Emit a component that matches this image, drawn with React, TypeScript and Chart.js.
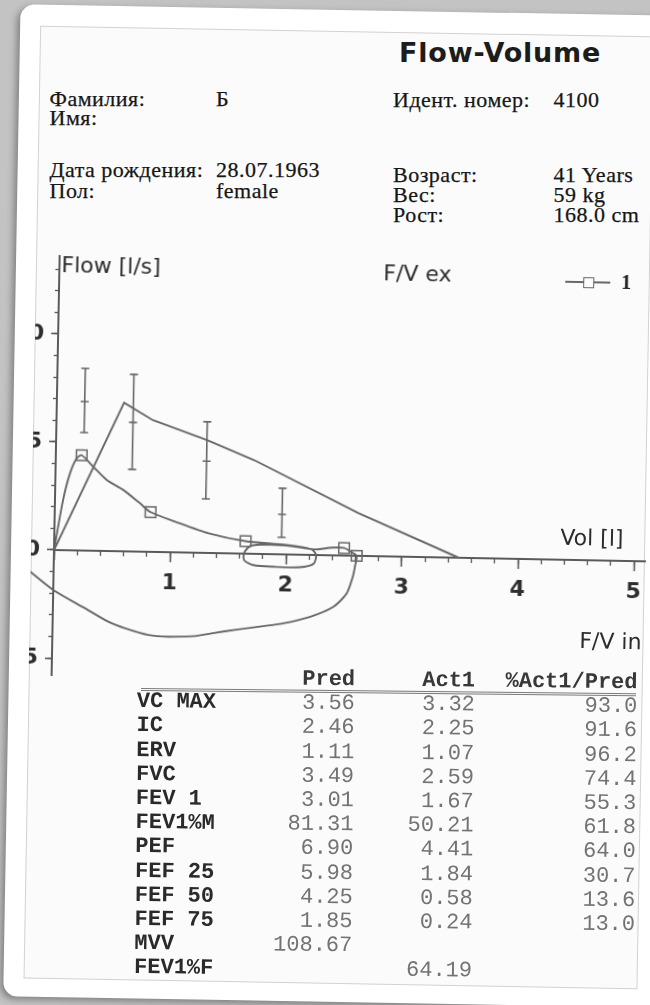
import React, { useEffect, useRef } from 'react';
import { Chart, registerables } from 'chart.js';

Chart.register(...registerables);

// ---------- chart data (volume in l, flow in l/s) ----------
// predicted expiratory curve
const predVolume = [0, 0.58, 0.83, 1.30, 1.71, 2.62, 3.49];
const predFlow = [0, 6.88, 6.10, 5.23, 4.34, 1.97, 0];

// predicted reference values with their ranges (PEF, FEF25, FEF50, FEF75)
const refVolume = [0.24, 0.66, 1.30, 1.96];
const refMean = [6.90, 5.98, 4.25, 1.85];
const refLow = [5.46, 3.80, 2.50, 0.79];
const refHigh = [8.44, 8.20, 6.07, 3.06];

// measured flow-volume loop (expiration then inspiration)
const measVolume = [
  0, 0.07, 0.125, 0.18, 0.223, 0.325, 0.443, 0.587, 0.733, 0.826,
  1.04, 1.33, 1.65, 2.0, 2.22, 2.26, 2.24, 2.12, 1.9, 1.72,
  1.64, 1.64, 1.7, 2.0, 2.24, 2.4, 2.5, 2.57, 2.61, 2.6,
  2.58, 2.53, 2.42, 2.22, 1.99, 1.83, 1.6, 1.37, 1.23, 1.0,
  0.827, 0.625, 0.48, 0.277, 0, -0.2, -0.33,
];
const measFlow = [
  0, 2.32, 3.56, 4.26, 4.41, 3.89, 3.29, 2.84, 2.24, 1.84,
  1.42, 0.91, 0.58, 0.44, 0.26, 0.0, -0.4, -0.58, -0.58, -0.52,
  -0.3, 0.05, 0.38, 0.42, 0.26, 0.36, 0.35, 0.15, 0.0, -0.4,
  -0.97, -1.75, -2.37, -2.86, -3.19, -3.33, -3.51, -3.72, -3.86, -3.91,
  -3.85, -3.56, -3.27, -2.67, -1.85, -1.03, -0.45,
];
// 1 where the measured curve carries a square marker
const measMarked = [
  0, 0, 0, 0, 1, 0, 0, 0, 0, 1,
  0, 0, 1, 0, 0, 0, 0, 0, 0, 0,
  0, 0, 0, 0, 0, 0, 1, 0, 1, 0,
  0, 0, 0, 0, 0, 0, 0, 0, 0, 0,
  0, 0, 0, 0, 0, 0, 0,
];

const volTickLabels = ['', '1', '2', '3', '4', '5'];

// ---------- table ----------
const rowLabels = ['VC MAX', 'IC', 'ERV', 'FVC', 'FEV 1', 'FEV1%M', 'PEF', 'FEF 25', 'FEF 50', 'FEF 75', 'MVV', 'FEV1%F'];
const predValues = ['3.56', '2.46', '1.11', '3.49', '3.01', '81.31', '6.90', '5.98', '4.25', '1.85', '108.67', ''];
const actValues = ['3.32', '2.25', '1.07', '2.59', '1.67', '50.21', '4.41', '1.84', '0.58', '0.24', '', '64.19'];
const pctValues = ['93.0', '91.6', '96.2', '74.4', '55.3', '61.8', '64.0', '30.7', '13.6', '13.0', '', ''];

const SANS = '"DejaVu Sans", Verdana, sans-serif';
const SERIF = '"Liberation Serif", "Times New Roman", serif';
const MONO = '"Liberation Mono", "Courier New", monospace';

const K_SANS = 0.846;
const K_SERIF = 0.8375;
const K_MONO = 0.7665;

type TxtProps = {
  left?: number;
  right?: number;
  baseline: number;
  size: number;
  family: string;
  k: number;
  weight?: string | number;
  color?: string;
  ls?: number;
  stroke?: string;
  children: React.ReactNode;
};

function Txt({ left, right, baseline, size, family, k, weight = 'normal', color = '#222', ls = 0, stroke, children }: TxtProps) {
  const style: React.CSSProperties = {
    position: 'absolute',
    top: baseline - k * size,
    fontSize: size,
    lineHeight: size + 'px',
    fontFamily: family,
    fontWeight: weight as any,
    color,
    letterSpacing: ls,
    whiteSpace: 'nowrap',
  };
  if (stroke) (style as any).WebkitTextStroke = stroke;
  if (right !== undefined) {
    style.left = right - 300;
    style.width = 300;
    style.textAlign = 'right';
  } else {
    style.left = left;
  }
  return <div style={style}>{children}</div>;
}

const LINE = '#676767';
const AXIS = '#5a5a5a';

// canvas geometry in the chart frame
const CANVAS_LEFT = 0;
const CANVAS_TOP = 220;
const CANVAS_W = 660;
const CANVAS_H = 480;
const ORIGIN_X = 54;
const ORIGIN_Y = 550;
const PX_PER_L = 116;
const PX_PER_LS = 21.6;
const VOL_MAX = 5.1;
const FLOW_MAX = 13.6;
const FLOW_MIN = -5.8;

function FlowVolumeChart() {
  const ref = useRef<HTMLCanvasElement>(null);
  useEffect(() => {
    const canvas = ref.current;
    if (!canvas) return;
    const pred = predVolume.map((v, i) => ({ x: v, y: predFlow[i] }));
    const meas = measVolume.map((v, i) => ({ x: v, y: measFlow[i] }));
    const bars = refVolume.map((v, i) => ({
      label: 'ref' + i,
      data: [
        { x: v, y: refLow[i] },
        { x: v, y: refMean[i] },
        { x: v, y: refHigh[i] },
      ],
      showLine: true,
      borderColor: LINE,
      borderWidth: 1.6,
      pointStyle: 'line',
      pointRadius: 4,
      pointHoverRadius: 4,
      pointBorderColor: LINE,
      pointBorderWidth: 1.6,
      pointBackgroundColor: LINE,
    }));

    const top = ORIGIN_Y - FLOW_MAX * PX_PER_LS - CANVAS_TOP;
    const bottom = CANVAS_TOP + CANVAS_H - (ORIGIN_Y - FLOW_MIN * PX_PER_LS);
    const right = CANVAS_LEFT + CANVAS_W - (ORIGIN_X + VOL_MAX * PX_PER_L);
    const yAxisWidth = 40;

    const tickFont = { family: SANS, size: 22, weight: 'bold' as const };

    const chart = new Chart(canvas, {
      type: 'scatter',
      data: {
        datasets: [
          {
            label: 'pred',
            data: pred,
            showLine: true,
            borderColor: LINE,
            borderWidth: 1.9,
            pointRadius: 0,
            pointHoverRadius: 0,
            tension: 0,
          },
          ...bars,
          {
            label: '1',
            data: meas,
            showLine: true,
            borderColor: LINE,
            borderWidth: 1.9,
            tension: 0.25,
            capBezierPoints: false,
            clip: false,
            pointStyle: 'rect',
            pointRadius: measMarked.map((m) => (m ? 7.5 : 0)),
            pointHoverRadius: measMarked.map((m) => (m ? 7.5 : 0)),
            pointBorderColor: LINE,
            pointBorderWidth: 1.5,
            pointBackgroundColor: 'rgba(255,255,255,0)',
          } as any,
        ] as any,
      },
      options: {
        animation: false,
        responsive: false,
        maintainAspectRatio: false,
        devicePixelRatio: 1,
        events: [],
        layout: {
          padding: {
            left: ORIGIN_X - CANVAS_LEFT - yAxisWidth,
            top,
            right,
            bottom,
          },
        },
        plugins: {
          legend: { display: false },
          tooltip: { enabled: false },
        },
        scales: {
          x: {
            type: 'linear',
            min: 0,
            max: VOL_MAX,
            position: { y: 0 } as any,
            ticks: {
              stepSize: 1,
              includeBounds: false,
              padding: 9,
              color: '#2e2e2e',
              font: tickFont,
              maxRotation: 0,
              autoSkip: false,
              callback: (v: any) => {
                const idx = Math.round(Number(v));
                return Math.abs(Number(v) - idx) < 1e-6 ? volTickLabels[idx] ?? '' : '';
              },
            },
            grid: {
              drawOnChartArea: false,
              drawTicks: true,
              tickLength: 9,
              tickColor: AXIS,
              tickWidth: 1.6,
            },
            border: { display: true, color: AXIS, width: 2 },
          },
          x2: {
            type: 'linear',
            min: 0,
            max: VOL_MAX,
            position: { y: 0 } as any,
            ticks: { stepSize: 0.2, includeBounds: false, display: false, autoSkip: false },
            grid: {
              drawOnChartArea: false,
              drawTicks: true,
              tickLength: 5,
              tickColor: AXIS,
              tickWidth: 1.3,
            },
            border: { display: false },
          },
          y: {
            type: 'linear',
            min: FLOW_MIN,
            max: FLOW_MAX,
            position: 'left',
            afterFit: (scale: any) => {
              scale.width = yAxisWidth;
            },
            ticks: {
              stepSize: 5,
              includeBounds: false,
              padding: 7,
              color: '#2e2e2e',
              font: tickFont,
              autoSkip: false,
            },
            grid: {
              drawOnChartArea: false,
              drawTicks: true,
              tickLength: 7,
              tickColor: AXIS,
              tickWidth: 1.6,
            },
            border: { display: true, color: AXIS, width: 2 },
          },
          y2: {
            type: 'linear',
            min: FLOW_MIN,
            max: FLOW_MAX,
            position: { x: 0 } as any,
            ticks: { stepSize: 1, includeBounds: false, display: false, autoSkip: false },
            grid: {
              drawOnChartArea: false,
              drawTicks: true,
              tickLength: 4,
              tickColor: AXIS,
              tickWidth: 1.3,
            },
            border: { display: false },
          },
        } as any,
      },
    });
    return () => {
      chart.destroy();
    };
  }, []);

  return (
    <canvas
      ref={ref}
      width={CANVAS_W}
      height={CANVAS_H}
      style={{ position: 'absolute', left: CANVAS_LEFT - 31, top: CANVAS_TOP, width: CANVAS_W, height: CANVAS_H }}
    />
  );
}

export default function App() {
  const headerSize = 22;
  const hs = { size: headerSize, family: SERIF, k: K_SERIF, ls: 0.5, color: '#161616', stroke: '0.25px #161616' };
  const rowBase = (i: number) => 708 + 24.2 * i;
  const ts = { size: 22, family: MONO, k: K_MONO };

  return (
    <div
      style={{
        position: 'fixed',
        left: 0,
        top: 0,
        width: 650,
        height: 1005,
        overflow: 'hidden',
        background: '#c3c3c3',
      }}
    >
      {/* card and paper */}
      <div
        style={{
          position: 'absolute',
          left: 0,
          top: 0,
          width: 650,
          height: 1005,
          transform: 'rotate(1deg)',
          transformOrigin: '54px 550px',
        }}
      >
        <div
          style={{
            position: 'absolute',
            left: 10.5,
            top: 5.3,
            width: 720,
            height: 991.7,
            background: '#ffffff',
            borderRadius: 14,
            boxShadow: '-3px 3px 7px rgba(0,0,0,0.35)',
          }}
        />
        <div
          style={{
            position: 'absolute',
            left: 31.4,
            top: 26.2,
            width: 613.6,
            height: 952.5,
            background: '#fbfbfb',
            border: '1px solid #d2d2d2',
            boxSizing: 'border-box',
          }}
        />
      </div>

      {/* header */}
      <Txt left={399} baseline={61.7} size={27} family={SANS} k={K_SANS} weight="bold" color="#1c1c1c" ls={0.8}>
        Flow-Volume
      </Txt>
      <Txt left={49.5} baseline={106.5} {...hs}>Фамилия:</Txt>
      <Txt left={216} baseline={106.5} {...hs}>Б</Txt>
      <Txt left={49.5} baseline={125.5} {...hs}>Имя:</Txt>
      <Txt left={393} baseline={107.5} {...hs}>Идент. номер:</Txt>
      <Txt left={553.5} baseline={107.5} {...hs}>4100</Txt>
      <Txt left={49.5} baseline={177} {...hs}>Дата рождения:</Txt>
      <Txt left={216} baseline={177} {...hs}>28.07.1963</Txt>
      <Txt left={49.5} baseline={198.5} {...hs}>Пол:</Txt>
      <Txt left={216} baseline={198.5} {...hs}>female</Txt>
      <Txt left={393} baseline={182.5} {...hs}>Возраст:</Txt>
      <Txt left={553.5} baseline={182.5} {...hs}>41 Years</Txt>
      <Txt left={393} baseline={202.5} {...hs}>Вес:</Txt>
      <Txt left={553.5} baseline={202.5} {...hs}>59 kg</Txt>
      <Txt left={393} baseline={222.5} {...hs}>Рост:</Txt>
      <Txt left={553.5} baseline={222.5} {...hs}>168.0 cm</Txt>

      {/* chart */}
      <div
        style={{
          position: 'absolute',
          left: 0,
          top: 0,
          width: 650,
          height: 1005,
          transform: 'rotate(1.1deg)',
          transformOrigin: '54px 550px',
        }}
      >
        <div style={{ position: 'absolute', left: 31, top: 0, width: 640, height: 1005, overflow: 'hidden' }}>
          <FlowVolumeChart />
        </div>
        <Txt left={56} baseline={273} size={22} family={SANS} k={K_SANS} color="#2c2c2c">Flow [l/s]</Txt>
        <Txt left={378} baseline={275} size={22} family={SANS} k={K_SANS} color="#2c2c2c">F/V ex</Txt>
        <Txt left={560} baseline={535.3} size={22} family={SANS} k={K_SANS} color="#2c2c2c">Vol [l]</Txt>
        <Txt left={581} baseline={638.2} size={22} family={SANS} k={K_SANS} color="#2c2c2c">F/V in</Txt>
        {/* legend */}
        <div style={{ position: 'absolute', left: 560, top: 271, width: 45, height: 2, background: LINE }} />
        <div
          style={{
            position: 'absolute',
            left: 577.5,
            top: 266.5,
            width: 11,
            height: 11,
            boxSizing: 'border-box',
            border: '1.5px solid ' + LINE,
            background: '#fbfbfb',
          }}
        />
        <Txt left={616} baseline={277.5} size={20} family={SERIF} k={K_SERIF} weight="bold" color="#222">1</Txt>
      </div>

      {/* table */}
      <div
        style={{
          position: 'absolute',
          left: 0,
          top: 0,
          width: 650,
          height: 1005,
          transform: 'rotate(0.6deg)',
          transformOrigin: '141px 689px',
        }}
      >
        <Txt right={355} baseline={683.5} {...ts} weight="bold" color="#383838">Pred</Txt>
        <Txt right={475} baseline={683.5} {...ts} weight="bold" color="#383838">Act1</Txt>
        <Txt right={637.5} baseline={683.5} {...ts} weight="bold" color="#383838">%Act1/Pred</Txt>
        <div
          style={{
            position: 'absolute',
            left: 141,
            top: 687.5,
            width: 495,
            height: 0,
            borderTop: '3px double #7a7a7a',
          }}
        />
        {rowLabels.map((lab, i) => (
          <React.Fragment key={lab}>
            <Txt left={137} baseline={rowBase(i)} {...ts} weight="bold" color="#2a2a2a">{lab}</Txt>
            {predValues[i] && (
              <Txt right={355} baseline={rowBase(i)} {...ts} color="#737373">{predValues[i]}</Txt>
            )}
            {actValues[i] && (
              <Txt right={475} baseline={rowBase(i)} {...ts} color="#737373">{actValues[i]}</Txt>
            )}
            {pctValues[i] && (
              <Txt right={637.5} baseline={rowBase(i)} {...ts} color="#737373">{pctValues[i]}</Txt>
            )}
          </React.Fragment>
        ))}
      </div>
    </div>
  );
}
